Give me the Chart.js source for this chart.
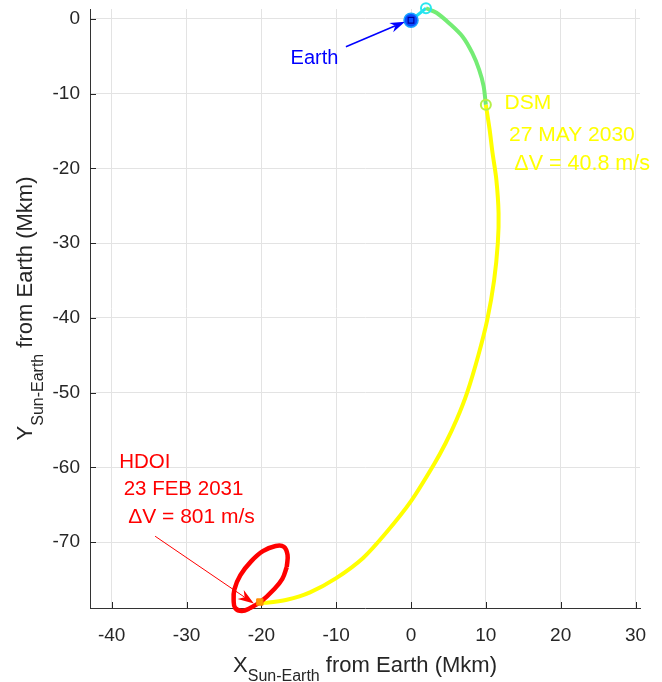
<!DOCTYPE html>
<html>
<head>
<meta charset="utf-8">
<script src="https://cdn.jsdelivr.net/npm/chart.js@4.4.0/dist/chart.umd.min.js"></script>
<style>
  html, body { margin: 0; padding: 0; background: #fff; }
  #wrap { width: 662px; height: 682px; }
</style>
</head>
<body>
<div id="wrap"><canvas id="orbit" width="662" height="682"></canvas></div>
<script>
// axis ticks (Mkm)
const xTicks = [-40, -30, -20, -10, 0, 10, 20, 30];
const yTicks = [-70, -60, -50, -40, -30, -20, -10, 0];

// trajectory legs, Sun-Earth frame, relative to Earth (Mkm)
const earthPos = [{x: 0.0, y: -0.2}];
const launchLeg = [{x: 0.0, y: -0.2}, {x: 2.0, y: 1.4}];
const cruiseLeg = [
  {x: 2.0, y: 1.4}, {x: 3.4, y: 0.8}, {x: 5.1, y: -0.6}, {x: 6.9, y: -2.4},
  {x: 8.2, y: -4.6}, {x: 9.1, y: -6.8}, {x: 9.7, y: -9.0}, {x: 10.0, y: -11.5}
];
const transferLeg = [
  {x: 10.0, y: -11.5}, {x: 10.5, y: -14.8}, {x: 10.9, y: -18.0}, {x: 11.4, y: -21.5},
  {x: 11.7, y: -26.0}, {x: 11.6, y: -30.0}, {x: 11.1, y: -35.0}, {x: 10.2, y: -40.2},
  {x: 9.0, y: -45.0}, {x: 7.5, y: -50.0}, {x: 6.1, y: -53.6}, {x: 4.6, y: -56.8},
  {x: 3.0, y: -59.7}, {x: 0.0, y: -64.5}, {x: -3.3, y: -68.7}, {x: -6.4, y: -72.1},
  {x: -10.0, y: -74.8}, {x: -13.5, y: -76.7}, {x: -16.6, y: -77.7}, {x: -19.3, y: -78.1},
  {x: -20.3, y: -78.1}
];
const hdoiOrbit = [
  {x: -16.6, y: -73.3}, {x: -17.2, y: -74.9}, {x: -18.4, y: -76.4}, {x: -20.0, y: -77.9},
  {x: -21.5, y: -78.8}, {x: -22.6, y: -79.2}, {x: -23.5, y: -78.8}, {x: -23.7, y: -77.8},
  {x: -23.6, y: -76.3}, {x: -22.8, y: -74.4}, {x: -21.4, y: -72.6}, {x: -19.8, y: -71.2},
  {x: -18.1, y: -70.5}, {x: -17.0, y: -70.6}, {x: -16.5, y: -71.7}, {x: -16.6, y: -73.3}
];
const launchPoint = [{x: 2.0, y: 1.4}];
const dsmPoint = [{x: 10.0, y: -11.5}];
const hdoiPoint = [{x: -20.2, y: -78.0}];

const FONT = "'Liberation Sans', Arial, Helvetica, sans-serif";
const AXIS_COLOR = '#262626';

function drawArrow(ctx, x1, y1, x2, y2, color, lw, len, wid) {
  const a = Math.atan2(y2 - y1, x2 - x1);
  const c = Math.cos(a), s = Math.sin(a);
  const bx = x2 - len * c, by = y2 - len * s;
  const nx = x2 - len * 0.7 * c, ny = y2 - len * 0.7 * s;
  ctx.strokeStyle = color;
  ctx.lineWidth = lw;
  ctx.beginPath();
  ctx.moveTo(x1, y1);
  ctx.lineTo(nx, ny);
  ctx.stroke();
  ctx.fillStyle = color;
  ctx.beginPath();
  ctx.moveTo(x2, y2);
  ctx.lineTo(bx + wid / 2 * s, by - wid / 2 * c);
  ctx.lineTo(nx, ny);
  ctx.lineTo(bx - wid / 2 * s, by + wid / 2 * c);
  ctx.closePath();
  ctx.fill();
}

// labels placed in data coordinates
const notes = [
  {text: 'Earth', x: -16.1, y: -6.0, color: '#0000ff', size: 20},
  {text: 'DSM', x: 12.5, y: -12.1, color: '#ffff00', size: 21},
  {text: '27 MAY 2030', x: 13.1, y: -16.3, color: '#ffff00', size: 21},
  {text: '\u0394V = 40.8 m/s', x: 13.8, y: -20.2, color: '#ffff00', size: 21.5},
  {text: 'HDOI', x: -39.0, y: -60.1, color: '#ff0000', size: 20.5},
  {text: '23 FEB 2031', x: -38.4, y: -63.7, color: '#ff0000', size: 20.5},
  {text: '\u0394V = 801 m/s', x: -37.8, y: -67.5, color: '#ff0000', size: 21}
];

const decorations = {
  id: 'decorations',
  beforeDatasetsDraw(chart) {
    const {ctx, chartArea: a, scales: {x, y}} = chart;
    ctx.save();
    ctx.strokeStyle = AXIS_COLOR;
    ctx.lineWidth = 1;
    ctx.beginPath();
    xTicks.forEach(v => {
      const px = Math.round(x.getPixelForValue(v)) + 0.5;
      ctx.moveTo(px, a.bottom);
      ctx.lineTo(px, a.bottom - 6);
    });
    yTicks.forEach(v => {
      const py = Math.round(y.getPixelForValue(v)) + 0.5;
      ctx.moveTo(a.left, py);
      ctx.lineTo(a.left + 6, py);
    });
    ctx.stroke();
    ctx.restore();
  },
  afterDraw(chart) {
    const {ctx, chartArea: a, scales: {x, y}} = chart;
    ctx.save();
    ctx.fillStyle = AXIS_COLOR;
    ctx.textBaseline = 'alphabetic';
    ctx.textAlign = 'left';

    // axis titles with subscript
    const big = '22px ' + FONT, small = '16px ' + FONT;
    ctx.font = big;
    const wMain = ctx.measureText(' from Earth (Mkm)').width;
    const wX = ctx.measureText('X').width;
    ctx.font = small;
    const wSub = ctx.measureText('Sun-Earth').width;
    const total = wX + wSub + wMain;

    let sx = (a.left + a.right) / 2 - total / 2;
    ctx.font = big;
    ctx.fillText('X', sx, 672);
    ctx.font = small;
    ctx.fillText('Sun-Earth', sx + wX, 681);
    ctx.font = big;
    ctx.fillText(' from Earth (Mkm)', sx + wX + wSub, 672);

    ctx.save();
    ctx.translate(31.5, (a.top + a.bottom) / 2 + total / 2);
    ctx.rotate(-Math.PI / 2);
    ctx.font = big;
    ctx.fillText('Y', 0, 0);
    ctx.font = small;
    ctx.fillText('Sun-Earth', wX, 11);
    ctx.font = big;
    ctx.fillText(' from Earth (Mkm)', wX + wSub, 0);
    ctx.restore();

    // annotations
    notes.forEach(n => {
      ctx.font = n.size + 'px ' + FONT;
      ctx.fillStyle = n.color;
      ctx.fillText(n.text, x.getPixelForValue(n.x), y.getPixelForValue(n.y));
    });
    drawArrow(ctx, x.getPixelForValue(-8.7), y.getPixelForValue(-3.75),
      x.getPixelForValue(-0.8), y.getPixelForValue(-0.4), '#0000ff', 1.5, 15, 10);
    drawArrow(ctx, x.getPixelForValue(-34.2), y.getPixelForValue(-69.2),
      x.getPixelForValue(-21.0), y.getPixelForValue(-78.2), '#ff0000', 1, 16, 11);
    ctx.restore();
  }
};

const lineSet = (data, color, width, tension, order) => ({
  data, showLine: true, borderColor: color, borderWidth: width,
  pointRadius: 0, tension, fill: false, clip: false, order
});
const pointSet = (data, style, radius, bg, border, bw, order) => ({
  data, showLine: false, pointStyle: style, pointRadius: radius,
  backgroundColor: bg, borderColor: border, borderWidth: bw, clip: false, order
});

new Chart(document.getElementById('orbit'), {
  type: 'scatter',
  data: {
    datasets: [
      pointSet(earthPos, 'rect', 4, 'rgba(0,0,0,0)', '#00009a', 1.2, 0),
      pointSet(earthPos, 'circle', 7, '#0a4cff', '#19a4ff', 1.5, 1),
      pointSet(launchPoint, 'circle', 5, 'rgba(0,0,0,0)', '#29e6ee', 2, 2),
      pointSet(dsmPoint, 'circle', 5, 'rgba(0,0,0,0)', '#b6f046', 2, 3),
      pointSet(hdoiPoint, 'rect', 4.5, '#ff9a00', '#ff8800', 1, 4),
      lineSet(hdoiOrbit, '#ff0000', 4.5, 0.4, 5),
      lineSet(transferLeg, '#ffff00', 4, 0.3, 6),
      lineSet(cruiseLeg, '#74ec74', 4, 0.3, 7),
      lineSet(launchLeg, '#1ee0f0', 3, 0, 8)
    ]
  },
  options: {
    responsive: false,
    animation: false,
    devicePixelRatio: 1,
    layout: {padding: {left: 0, right: 22, top: 9, bottom: 0}},
    elements: {line: {capBezierPoints: false}},
    plugins: {legend: {display: false}, tooltip: {enabled: false}},
    scales: {
      x: {
        type: 'linear', min: -42.9, max: 30.6,
        afterBuildTicks: s => { s.ticks = xTicks.map(v => ({value: v})); },
        afterFit: s => { s.height = 74; s.paddingLeft = 0; s.paddingRight = 0; },
        grid: {color: '#e3e3e3', drawTicks: false},
        border: {color: '#333', width: 1},
        ticks: {padding: 16, color: AXIS_COLOR, font: {family: FONT, size: 19}}
      },
      y: {
        type: 'linear', min: -78.8, max: 1.3,
        afterBuildTicks: s => { s.ticks = yTicks.map(v => ({value: v})); },
        afterFit: s => { s.width = 90; s.paddingTop = 0; s.paddingBottom = 0; },
        grid: {color: '#e3e3e3', drawTicks: false},
        border: {color: '#333', width: 1},
        ticks: {padding: 10, color: AXIS_COLOR, font: {family: FONT, size: 19}}
      }
    }
  },
  plugins: [decorations]
});
</script>
</body>
</html>
